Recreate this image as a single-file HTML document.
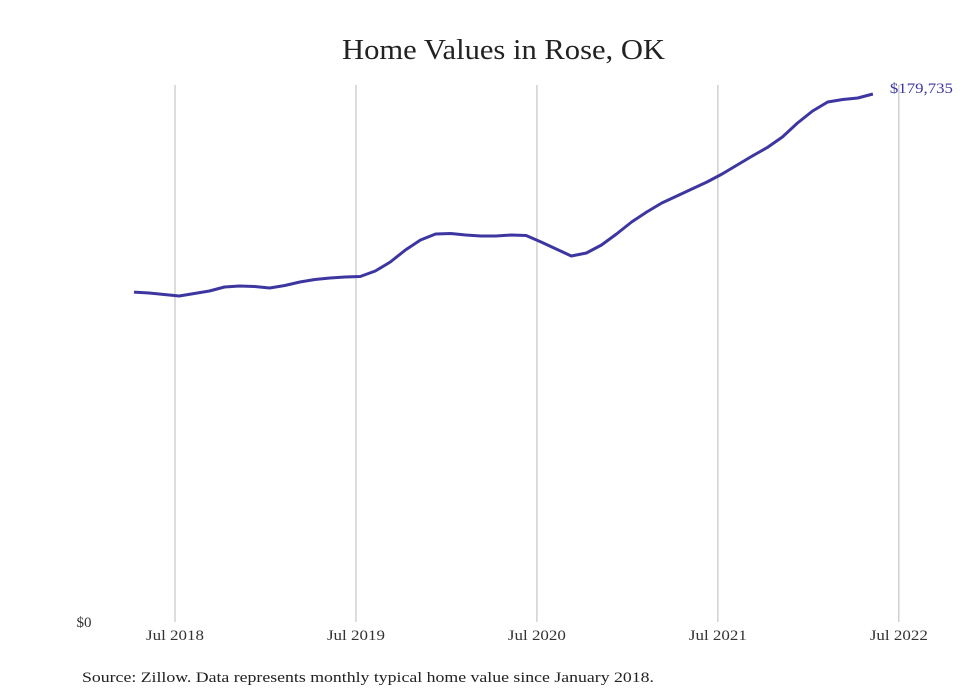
<!DOCTYPE html>
<html><head><meta charset="utf-8"><style>
body{margin:0;background:#fff;}
svg{display:block;font-family:"Liberation Serif",serif;}
</style></head><body>
<svg id="chart" width="980" height="699">
<text x="342" y="59" font-size="29" fill="#222" textLength="323" lengthAdjust="spacingAndGlyphs">Home Values in Rose, OK</text>
<g id="grid"></g>
<g id="xticks"></g>
<text x="84" y="627" text-anchor="middle" font-size="15" fill="#333">$0</text>
<path id="line" fill="none" stroke="#3d36a0" stroke-width="3" stroke-linejoin="round"></path>
<text id="endlabel" font-size="15" fill="#3d36a0" textLength="63" lengthAdjust="spacingAndGlyphs"></text>
<text x="82" y="682" font-size="15" fill="#222" textLength="572" lengthAdjust="spacingAndGlyphs">Source: Zillow. Data represents monthly typical home value since January 2018.</text>
</svg>
<script>
const values=[112300,111990,111480,110970,111820,112670,114030,114370,114200,113690,114540,115740,116590,117100,117440,117610,119480,122540,126630,130030,132080,132250,131740,131390,131390,131740,131560,129350,126970,124590,125610,128330,132080,136160,139560,142630,145010,147390,149780,152500,155560,158630,161520,165090,169860,173940,177010,177860,178370,179735];
const firstMonth=3.28; // months since Jan 2018
const tickMonths=[6,18,30,42,54];
const tickLabels=["Jul 2018","Jul 2019","Jul 2020","Jul 2021","Jul 2022"];
const x=m=>175+(m-6)*15.08;
const y=v=>622-v/179735*528;
const ns="http://www.w3.org/2000/svg";
const grid=document.getElementById('grid'),xt=document.getElementById('xticks');
tickMonths.forEach((m,i)=>{
  const l=document.createElementNS(ns,'line');
  
  
  l.setAttribute('x1',x(m));l.setAttribute('x2',x(m));l.setAttribute('y1',85);l.setAttribute('y2',622);
  l.setAttribute('stroke','#bbb');l.setAttribute('stroke-width','1');
  grid.appendChild(l);
  const t=document.createElementNS(ns,'text');
  
  
  t.setAttribute('x',x(m));t.setAttribute('y',640);t.setAttribute('text-anchor','middle');
  t.setAttribute('font-size','15');t.setAttribute('fill','#333');
  t.setAttribute('textLength','58');t.setAttribute('lengthAdjust','spacingAndGlyphs');
  t.textContent=tickLabels[i];
  xt.appendChild(t);
});
document.getElementById('line').setAttribute('d',values.map((v,i)=>(i?'L':'M')+x(firstMonth+i).toFixed(1)+','+y(v).toFixed(1)).join(''));
const last=values[values.length-1];
const el=document.getElementById('endlabel');
el.setAttribute('x',x(firstMonth+values.length-1)+17);
el.setAttribute('y',y(last)-1);
el.textContent='$'+last.toLocaleString('en-US');
</script>
</body></html>
